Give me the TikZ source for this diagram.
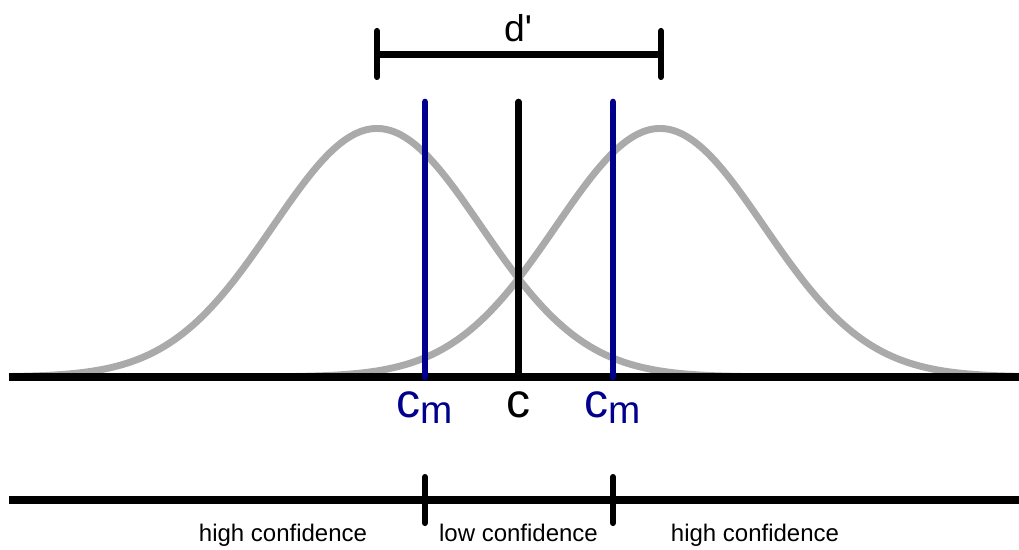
\documentclass[tikz,border=0pt]{standalone}
\usepackage{fontspec}
\setmainfont{Liberation Sans}
\newfontfamily\plainfont[Ligatures=TeXOff]{Liberation Sans}
\definecolor{curvegray}{RGB}{170,170,170}
\definecolor{cmblue}{RGB}{0,0,140}
\tikzset{
  axisline/.style={line width=6pt, black, line cap=butt},
  curve/.style={line width=5.2pt, curvegray},
  critline/.style={line width=5pt, line cap=round},
  tickline/.style={line width=4.6pt, black, line cap=round},
  barline/.style={line width=5.5pt, black},
  bigsub/.style={inner sep=0pt, anchor=base},
  conflabel/.style={inner sep=0pt, anchor=base, font=\fontsize{18}{20}\selectfont},
}
\newcommand{\cmlabel}{{\fontsize{36}{40}\selectfont c}\raisebox{-4.6pt}{\fontsize{29}{32}\selectfont m}}
\begin{document}
\begin{tikzpicture}[x=0.75pt,y=-0.75pt]
\useasboundingbox (0,0) rectangle (1019,549);
% curves
\draw[curve] plot[domain=9:1019, samples=300, smooth] (\x, {377-248.5*exp(-0.5*((\x-377)/104)^2)});
\draw[curve] plot[domain=9:1019, samples=300, smooth] (\x, {377-248.5*exp(-0.5*((\x-660)/104)^2)});
% axis
\coordinate (axL) at (9,377);
\coordinate (axR) at (1019,377);
\draw[axisline] (axL) -- (axR);
% criterion lines
\coordinate (cm1t) at (425,102); \coordinate (cm1b) at (425,377);
\coordinate (ct) at (518.5,102); \coordinate (cb) at (518.5,377);
\coordinate (cm2t) at (613,102); \coordinate (cm2b) at (613,377);
\draw[critline, cmblue] (cm1t) -- (cm1b);
\draw[critline, black] (ct) -- (cb);
\draw[critline, cmblue] (cm2t) -- (cm2b);
% labels
\node[bigsub, text=cmblue] (lcm1) at (425,417) {\cmlabel};
\node[bigsub, font=\fontsize{36}{40}\selectfont] (lc) at (518.5,417) {c};
\node[bigsub, text=cmblue] (lcm2) at (613,417) {\cmlabel};
% d' bracket
\coordinate (dL) at (377,54.5); \coordinate (dR) at (661,54.5);
\coordinate (dLt) at (377,31); \coordinate (dLb) at (377,77);
\coordinate (dRt) at (661,31); \coordinate (dRb) at (661,77);
\draw[barline] (dL) -- (dR);
\draw[tickline] (dLt) -- (dLb);
\draw[tickline] (dRt) -- (dRb);
\node[bigsub, font=\plainfont\fontsize{28}{31}\selectfont] (dprime) at (518,42) {d'};
% confidence line
\coordinate (bL) at (9,500); \coordinate (bR) at (1019,500);
\draw[axisline] (bL) -- (bR);
\coordinate (t1t) at (425,477); \coordinate (t1b) at (425,523);
\coordinate (t2t) at (613,477); \coordinate (t2b) at (613,523);
\draw[tickline] (t1t) -- (t1b);
\draw[tickline] (t2t) -- (t2b);
\node[conflabel] (hc1) at (283,541) {high confidence};
\node[conflabel] (lowc) at (518.5,541) {low confidence};
\node[conflabel] (hc2) at (755,541) {high confidence};
\end{tikzpicture}
\end{document}
